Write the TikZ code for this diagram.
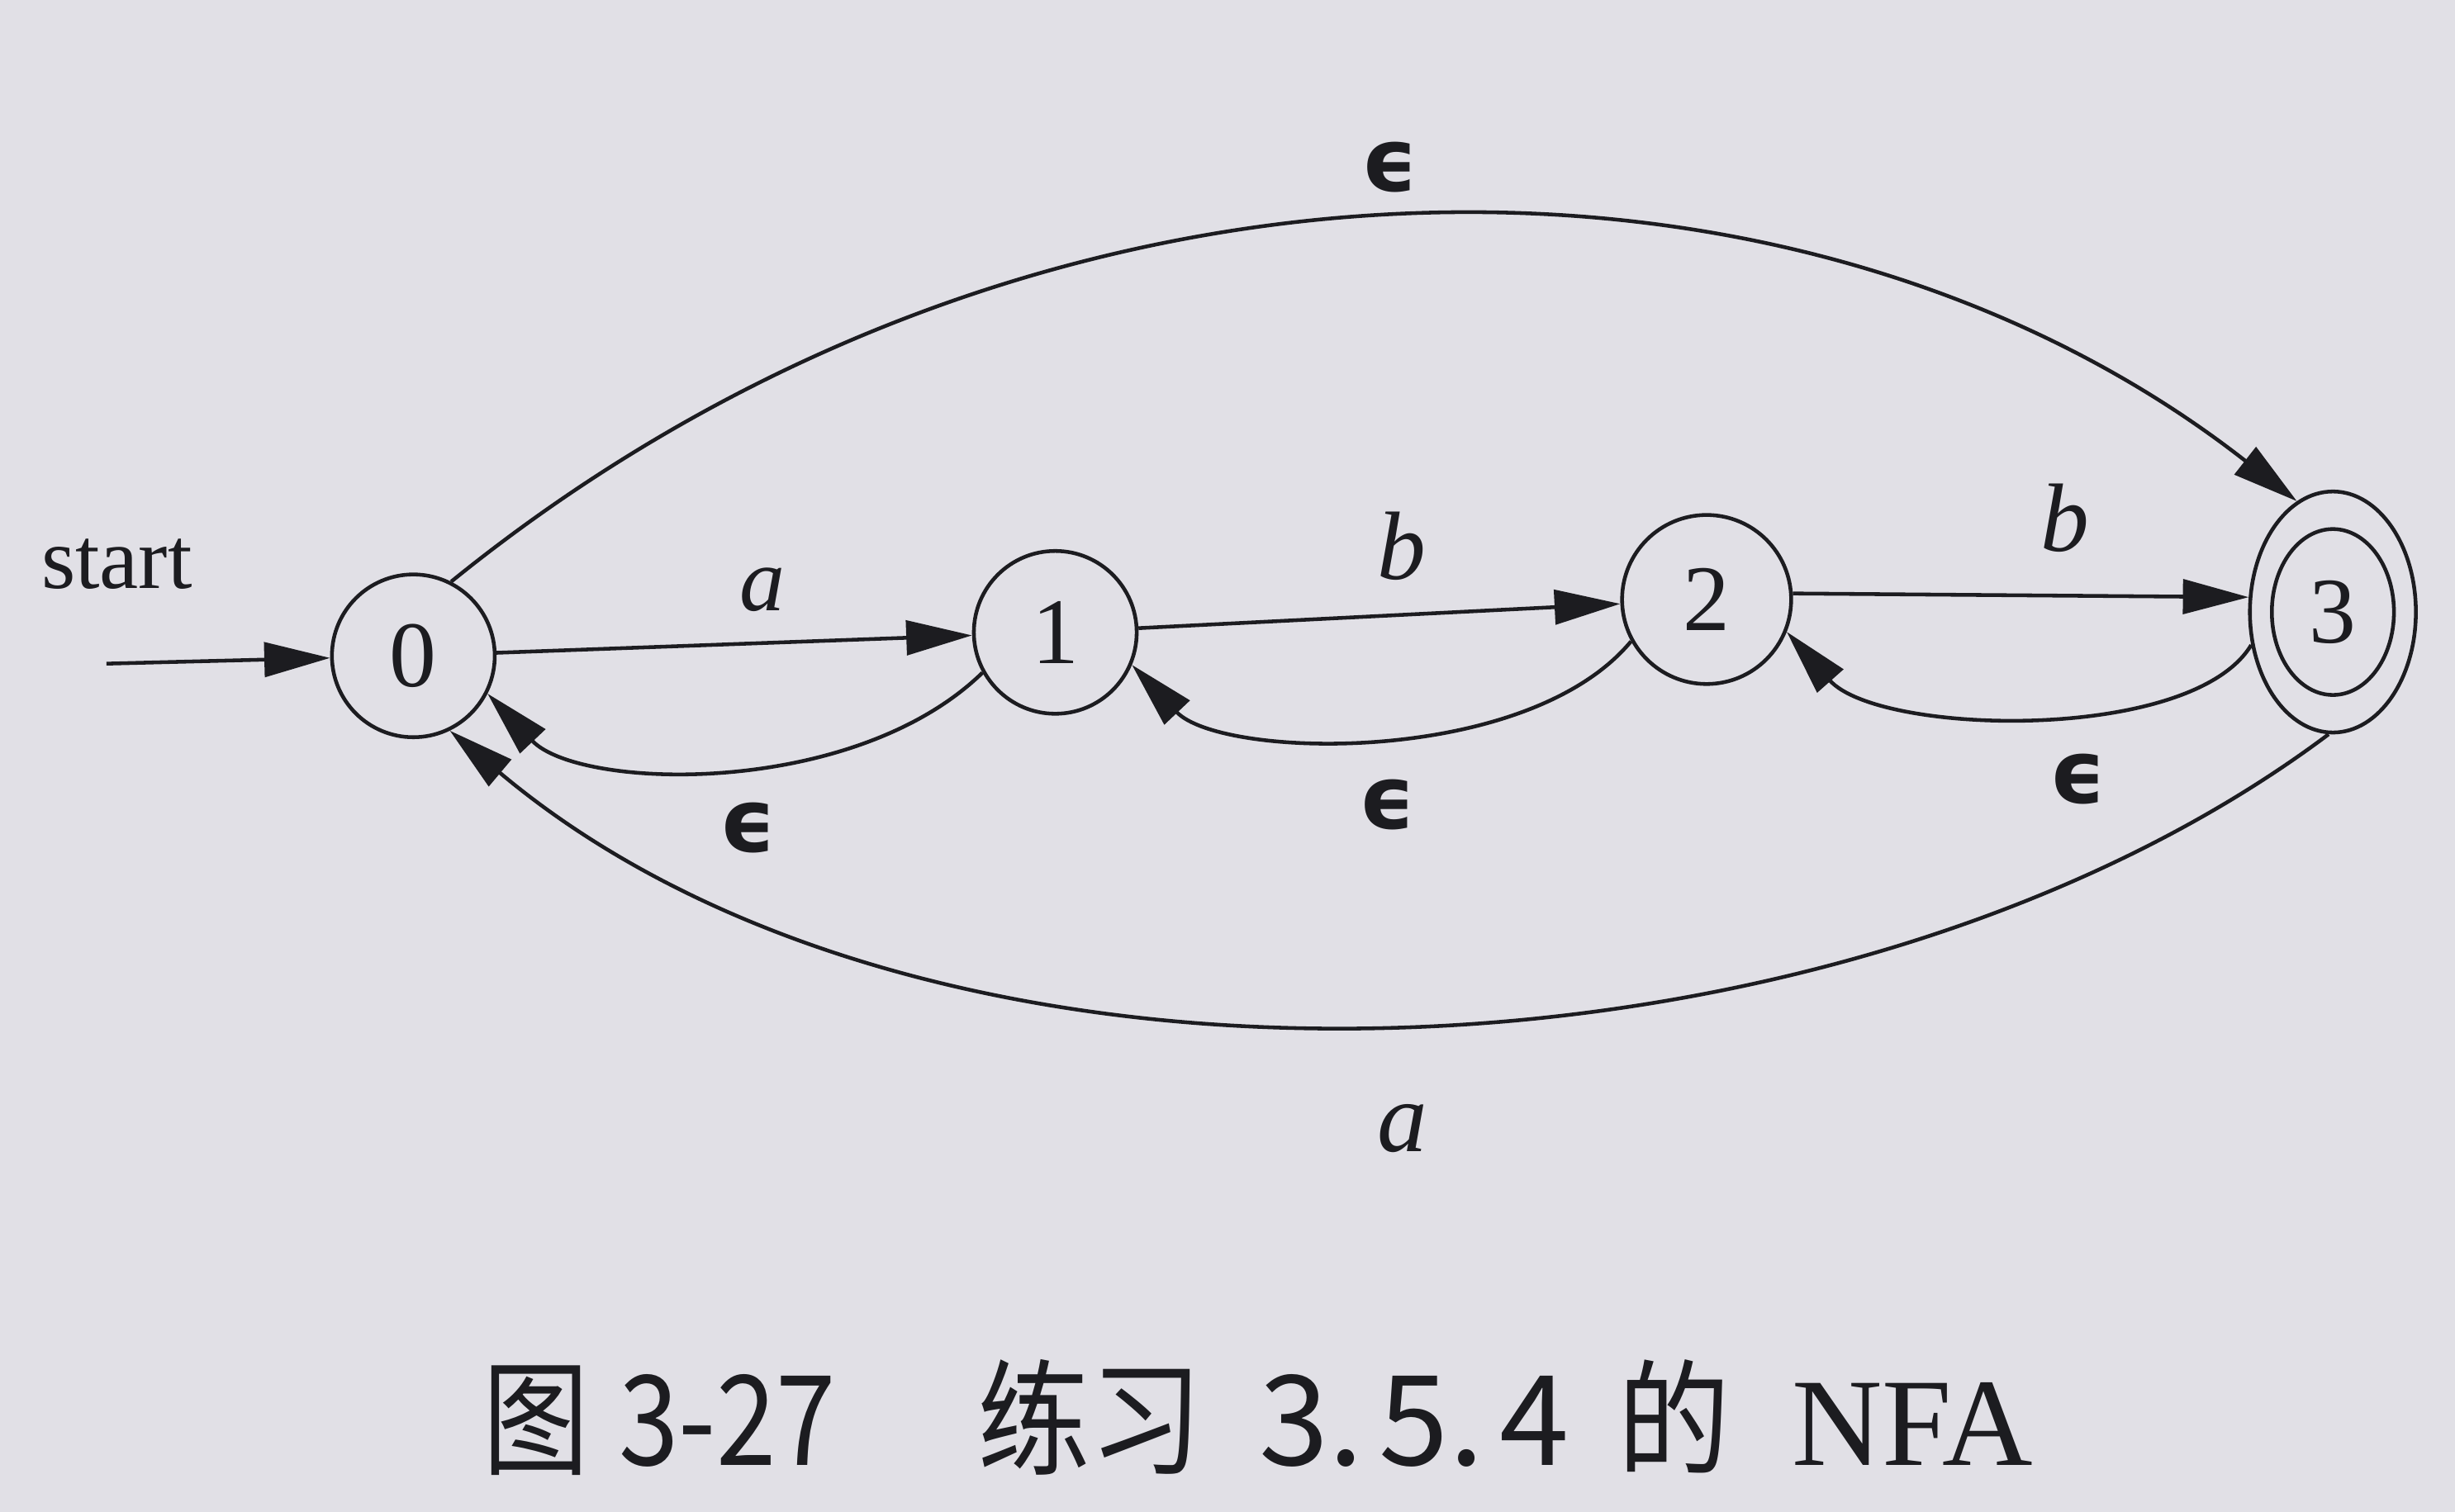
\documentclass[tikz,border=0pt]{standalone}
\usepackage{graphicx}
\usepackage{fontspec}
\setmainfont{Liberation Serif}
\newfontfamily\cjk{Noto Sans CJK SC}
\newfontfamily\epsfont{DejaVu Sans}
\usetikzlibrary{arrows.meta,shapes.geometric}
\definecolor{paper}{RGB}{225,224,230}
\definecolor{ink}{RGB}{28,28,32}
\newcommand{\myeps}{{\epsfont\bfseries ϵ}}
\begin{document}
\begin{tikzpicture}[x=0.5pt,y=-0.5pt,
  state/.style={circle,draw=ink,line width=1.2pt,minimum size=52pt,inner sep=0pt,
    font=\fontsize{30}{32}\selectfont,text=ink},
  accstate/.style={ellipse,draw=ink,line width=1.2pt,minimum width=53pt,minimum height=77pt,inner sep=0pt,
    font=\fontsize{30}{32}\selectfont,text=ink},
  edge/.style={draw=ink,line width=1.2pt,-{Triangle[length=21pt,width=11pt]}},
  lbl/.style={inner sep=0pt,text=ink,font=\fontsize{29}{31}\selectfont\itshape},
  epslbl/.style={inner sep=0pt,text=ink,font=\fontsize{28}{30}\selectfont},
  captxt/.style={inner sep=0pt,anchor=base west,text=ink,font=\fontsize{40}{42}\selectfont}
]
\fill[paper] (0,0) rectangle (1568,966);
\useasboundingbox (0,0) rectangle (1568,966);

% states
\node[state] (n0) at (264,419) {0};
\node[state] (n1) at (674,404) {1};
\node[state,minimum size=54pt] (n2) at (1090,383) {2};
\node[accstate] (n3) at (1490,391) {3};
\draw[ink,line width=1.2pt] (n3.center) ellipse [x radius=19.5pt, y radius=26.5pt];

% start
\node[inner sep=0pt,anchor=base west,text=ink,font=\fontsize{28}{30}\selectfont] (st) at (26,376) {start};
\coordinate (s0) at (68,424);
\draw[edge] (s0) -- (n0);

% forward edges
\draw[edge] (n0) -- (n1);
\draw[edge] (n1) -- (n2);
\draw[edge] (n2.4) -- (n3.170);

% epsilon back edges
\draw[edge] (n1.209) .. controls (545,510) and (370,505) .. (n0.-27);
\draw[edge] (n2.209) .. controls (975,490) and (780,485) .. (n1.-23);
\draw[edge] (n3.202) .. controls (1400,475) and (1200,470) .. (n2.-22);

% long arcs
\draw[edge] (n0.63) .. controls (660,70) and (1150,72) .. (n3.108);
\draw[edge] (n3.268) .. controls (1180,700) and (600,730) .. (n0.-64);

% labels
\node[lbl] (la) at (487,377) {a};
\node[lbl,font=\fontsize{31}{33}\selectfont\itshape] (lb1) at (895,349) {b};
\node[lbl,font=\fontsize{31}{33}\selectfont\itshape] (lb2) at (1319,331) {b};
\node[epslbl] (le1) at (478,529) {\myeps};
\node[epslbl] (le2) at (886,514) {\myeps};
\node[epslbl] (le3) at (1327,498) {\myeps};
\node[epslbl] (le4) at (888,107) {\myeps};
\node[lbl,font=\fontsize{32}{34}\selectfont\itshape] (la2) at (896,721) {a};

% caption
\node[captxt] (c1) at (308,936) {\scalebox{0.85}[1]{\cjk 图}};
\node[captxt] (c2) at (395,936) {\scalebox{0.86}[1]{\cjk 3-27}};
\node[captxt] (c3) at (624,936) {\scalebox{0.9}[1]{\cjk 练习}};
\node[captxt] (c4) at (804,936) {\cjk 3.\kern5pt 5.\kern5pt 4};
\node[captxt] (c5) at (1033,936) {\scalebox{0.9}[1]{\cjk 的}};
\node[captxt] (c6) at (1144,936) {NFA};
\end{tikzpicture}
\end{document}
